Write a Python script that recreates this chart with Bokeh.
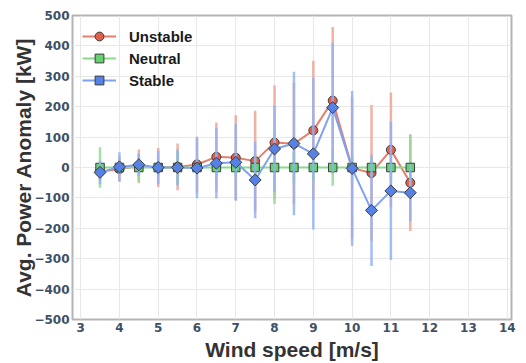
import math
from bokeh.plotting import figure
from bokeh.models import ColumnDataSource, Legend, LegendItem, FixedTicker
from bokeh.embed import file_html
from bokeh.resources import INLINE

wind_speed = [3.5, 4.0, 4.5, 5.0, 5.5, 6.0, 6.5, 7.0, 7.5, 8.0, 8.5, 9.0, 9.5, 10.0, 10.5, 11.0, 11.5]

unstable_mean = [-14, -5, 4, 0, 2, 10, 35, 32, 21, 82, 78, 122, 220, -2, -18, 58, -50]
unstable_err = [30, 42, 55, 64, 77, 92, 113, 140, 166, 188, 200, 229, 242, 233, 224, 189, 159]

neutral_mean = [0, 0, 0, 0, 0, 0, 0, 0, 0, 0, 0, 0, 0, 0, 0, 0, 0]
neutral_err = [67, 20, 45, 30, 55, 20, 30, 30, 40, 120, 50, 40, 60, 40, 30, 40, 108]

stable_mean = [-16, 2, 9, 0, 0, -2, 14, 17, -41, 61, 79, 45, 197, -3, -141, -77, -83]
stable_err = [38, 48, 36, 55, 60, 99, 116, 126, 126, 142, 236, 249, 213, 255, 183, 227, 94]

series_names = ["Unstable", "Neutral", "Stable"]

x_ticks = [3, 4, 5, 6, 7, 8, 9, 10, 11, 12, 13, 14]
y_ticks = [-500, -400, -300, -200, -100, 0, 100, 200, 300, 400, 500]

p = figure(width=526, height=363, output_backend="svg", toolbar_location=None,
           x_range=(2.79, 14.11), y_range=(-500, 500),
           min_border_left=72, min_border_right=15, min_border_top=15, min_border_bottom=41,
           x_axis_label="Wind speed [m/s]", y_axis_label="Avg. Power Anomaly [kW]")

p.background_fill_color = "white"
p.border_fill_color = "white"
p.outline_line_color = "#b4b4b4"
p.outline_line_width = 2

p.xaxis.ticker = FixedTicker(ticks=x_ticks)
p.yaxis.ticker = FixedTicker(ticks=y_ticks)
p.xgrid.ticker = FixedTicker(ticks=x_ticks)
p.ygrid.ticker = FixedTicker(ticks=y_ticks)
p.xgrid.grid_line_color = "#e8e8e8"
p.ygrid.grid_line_color = "#e8e8e8"
p.xgrid.grid_line_width = 1
p.ygrid.grid_line_width = 1

for ax in (p.xaxis, p.yaxis):
    ax.axis_line_color = None
    ax.major_tick_line_color = None
    ax.minor_tick_line_color = None
    ax.major_tick_out = 0
    ax.major_tick_in = 0
    ax.major_label_text_font = "DejaVu Sans"
    ax.major_label_text_font_style = "bold"
    ax.major_label_text_font_size = "12px"
    ax.major_label_text_color = "#3e5065"
    ax.axis_label_text_font = "Liberation Sans"
    ax.axis_label_text_font_style = "bold"
    ax.axis_label_text_font_size = "21px"
    ax.axis_label_text_color = "#333333"
    ax.major_label_standoff = 3
    ax.axis_label_standoff = 3
p.yaxis.axis_label_standoff = -4

styles = [
    dict(mean=unstable_mean, err=unstable_err, marker="circle", size=9, angle=0,
         fill="#e0604c", line="#e57f6e", errc="#f0a394"),
    dict(mean=neutral_mean, err=neutral_err, marker="square", size=8.5, angle=0,
         fill="#66d16f", line="#8ad98d", errc="#92dc95"),
    dict(mean=stable_mean, err=stable_err, marker="square", size=8.5, angle=math.pi / 4,
         fill="#5682e6", line="#7fa1ef", errc="#93b2f4"),
]

items = []
for name, st in zip(series_names, styles):
    lower = [m - e for m, e in zip(st["mean"], st["err"])]
    upper = [m + e for m, e in zip(st["mean"], st["err"])]
    src = ColumnDataSource(dict(x=wind_speed, y=st["mean"], lo=lower, hi=upper))
    p.segment(x0="x", y0="lo", x1="x", y1="hi", source=src,
              line_color=st["errc"], line_width=2.5, line_alpha=0.85)
    lr = p.line("x", "y", source=src, line_color=st["line"], line_width=2)
    sr = p.scatter("x", "y", source=src, marker=st["marker"], size=st["size"], angle=st["angle"],
                   fill_color=st["fill"], line_color="#3c3c3c", line_width=1)
    items.append(LegendItem(label=name, renderers=[lr, sr]))

legend = Legend(items=items, location="top_left")
legend.border_line_color = None
legend.background_fill_alpha = 0
legend.margin = 10
legend.padding = 0
legend.spacing = 0
legend.glyph_width = 34
legend.glyph_height = 22
legend.label_height = 22
legend.label_standoff = 13
legend.label_text_font = "Liberation Sans"
legend.label_text_font_style = "bold"
legend.label_text_font_size = "15px"
legend.label_text_color = "#1a1a1a"
p.add_layout(legend)

open("out.html", "w").write(file_html(p, INLINE))
